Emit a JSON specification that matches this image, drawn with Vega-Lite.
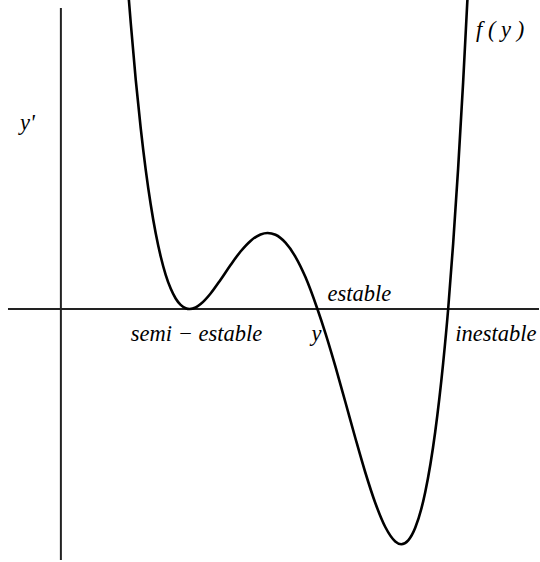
{
  "$schema": "https://vega.github.io/schema/vega-lite/v6.json",
  "width": 540,
  "height": 562,
  "padding": 0,
  "autosize": {"type": "fit", "contains": "padding"},
  "background": "white",
  "config": {"view": {"stroke": null}},
  "datasets": {
    "curve": [
      {"u": 68, "v": 310.6}, {"u": 70, "v": 286}, {"u": 75, "v": 229.2}, {"u": 80, "v": 180.6},
      {"u": 85, "v": 139.2}, {"u": 90, "v": 104.5}, {"u": 95, "v": 75.7}, {"u": 100, "v": 52.5},
      {"u": 105, "v": 34.2}, {"u": 110, "v": 20.4}, {"u": 115, "v": 10.5}, {"u": 120, "v": 4.1},
      {"u": 125, "v": 0.8}, {"u": 129, "v": 0}, {"u": 135, "v": 1.5}, {"u": 140, "v": 4.9},
      {"u": 150, "v": 15.5}, {"u": 160, "v": 29.3}, {"u": 170, "v": 44.0}, {"u": 180, "v": 57.5},
      {"u": 190, "v": 68.1}, {"u": 200, "v": 74.5}, {"u": 207, "v": 76.0}, {"u": 215, "v": 74.2},
      {"u": 225, "v": 66.3}, {"u": 235, "v": 52.2}, {"u": 245, "v": 31.9}, {"u": 257, "v": 0},
      {"u": 265, "v": -24.1}, {"u": 275, "v": -57.4}, {"u": 285, "v": -93.0}, {"u": 295, "v": -129.0},
      {"u": 305, "v": -163.5}, {"u": 315, "v": -194.0}, {"u": 325, "v": -218.0}, {"u": 335, "v": -232.4},
      {"u": 341, "v": -235.2}, {"u": 348, "v": -231.3}, {"u": 355, "v": -218.8}, {"u": 365, "v": -183.3},
      {"u": 375, "v": -123.0}, {"u": 383, "v": -53.9}, {"u": 388, "v": 0}, {"u": 393, "v": 65.4},
      {"u": 398, "v": 140.8}, {"u": 403, "v": 226.9}, {"u": 407, "v": 304}, {"u": 408, "v": 322}
    ],
    "axes": [
      {"x1": -53, "x2": 479, "y1": 0, "y2": 0},
      {"x1": 0, "x2": 0, "y1": 301, "y2": -251}
    ],
    "labels": [
      {"u": -41, "v": 186, "t": "y'"},
      {"u": 416, "v": 279, "t": "f ( y )"},
      {"u": 267, "v": 15, "t": "estable"},
      {"u": 70, "v": -25, "t": "semi − estable"},
      {"u": 251, "v": -25, "t": "y"},
      {"u": 395, "v": -25, "t": "inestable"}
    ]
  },
  "layer": [
    {
      "data": {"name": "axes"},
      "mark": {"type": "rule", "color": "#222222", "strokeWidth": 2},
      "encoding": {
        "x": {"field": "x1", "type": "quantitative", "scale": {"domain": [-61, 479], "nice": false, "zero": false}, "axis": null},
        "x2": {"field": "x2"},
        "y": {"field": "y1", "type": "quantitative", "scale": {"domain": [-253, 309], "nice": false, "zero": false}, "axis": null},
        "y2": {"field": "y2"}
      }
    },
    {
      "data": {"name": "curve"},
      "mark": {"type": "line", "color": "black", "strokeWidth": 2.6, "interpolate": "monotone", "clip": true},
      "encoding": {
        "x": {"field": "u", "type": "quantitative"},
        "y": {"field": "v", "type": "quantitative"}
      }
    },
    {
      "data": {"name": "labels"},
      "mark": {"type": "text", "align": "left", "baseline": "middle", "font": "Liberation Serif, serif", "fontStyle": "italic", "fontSize": 22.5, "color": "black"},
      "encoding": {
        "x": {"field": "u", "type": "quantitative"},
        "y": {"field": "v", "type": "quantitative"},
        "text": {"field": "t"}
      }
    }
  ]
}
